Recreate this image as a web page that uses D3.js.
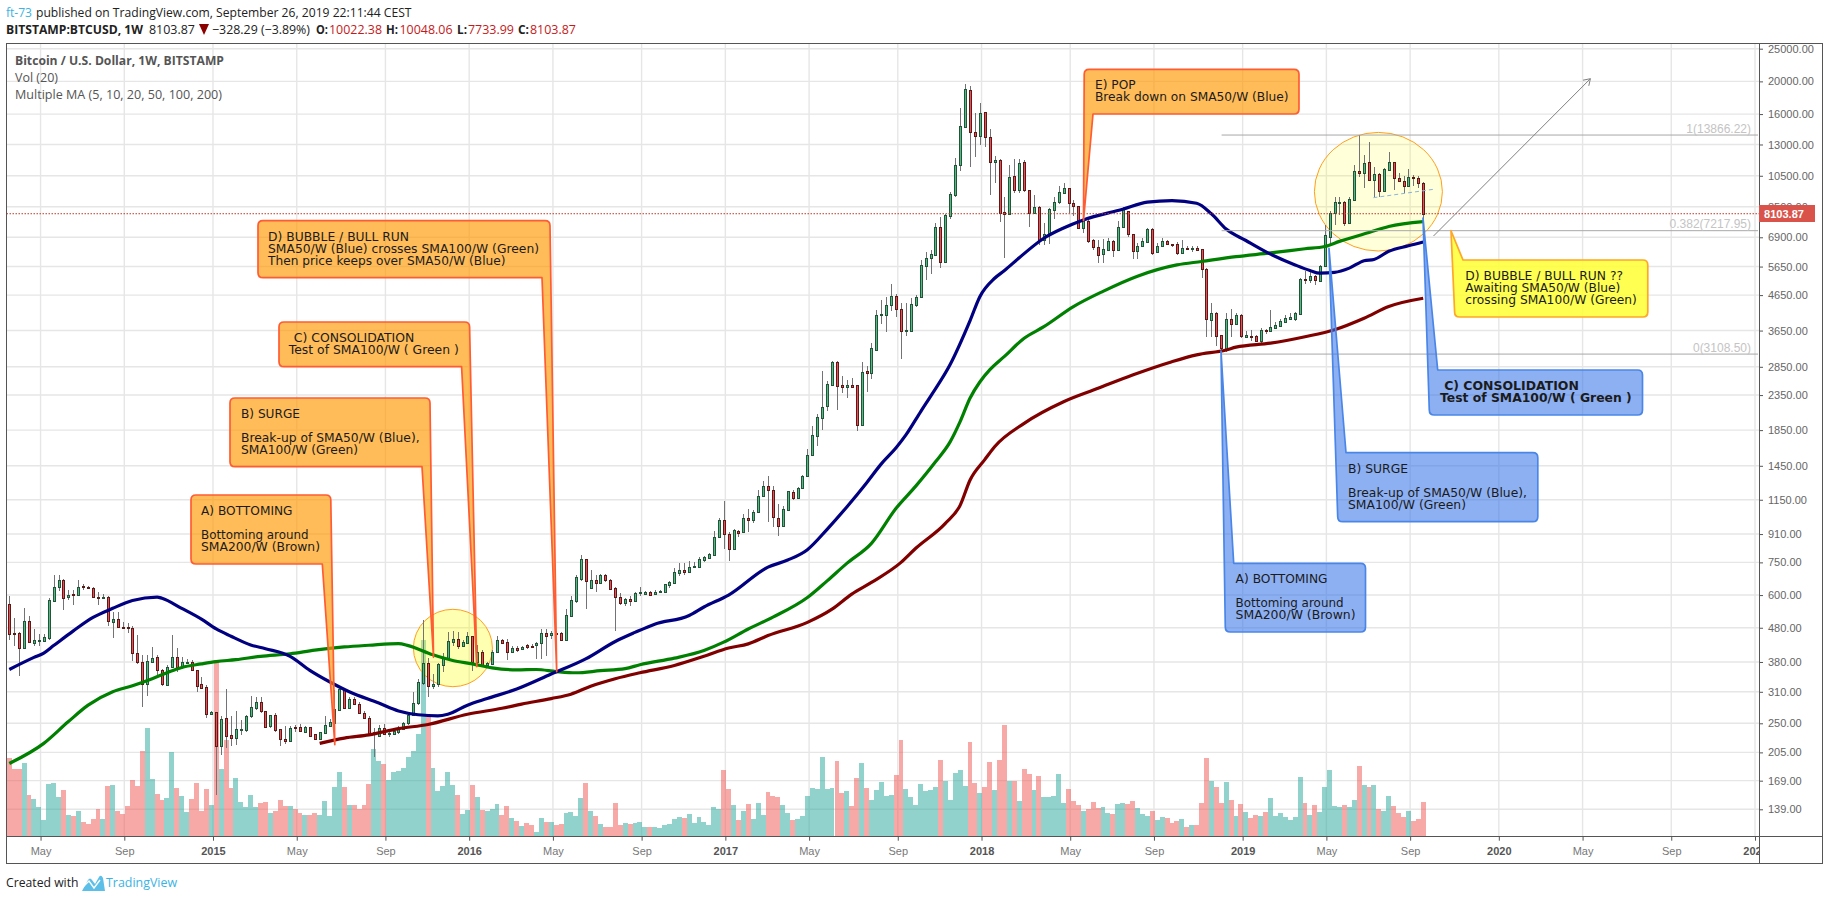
<!DOCTYPE html>
<html><head><meta charset="utf-8">
<script src="https://cdn.jsdelivr.net/npm/d3@7"></script>
<style>
html,body{margin:0;padding:0;background:#fff;overflow:hidden}
svg{display:block;font-family:"Liberation Sans",Arial,sans-serif}
.note{font-family:"DejaVu Sans",sans-serif;font-size:12px;fill:#1b1b1b}
.head{font-family:"Open Sans",sans-serif;font-size:12.5px;fill:#222}
</style></head><body>
<svg id="c" width="1828" height="900"></svg>
<script>
// weekly candles [open, high, low, close]
const ohlc2014=[[563,597,443,461],[463,512,423,461],[463,467,345,419],[419,551,418,504],[504,519,433,435],[433,476,425,440],[438,460,425,443],[439,460,435,451],[449,590,440,580],[577,687,573,636],[636,687,618,664],[663,669,542,590],[593,621,581,602],[604,621,560,601],[602,664,601,636],[637,646,622,636],[636,639,625,630],[630,632,592,593],[594,611,560,593],[590,604,584,594],[594,597,486,501],[500,533,449,511],[511,533,479,482],[482,500,476,479],[482,495,463,479],[479,485,382,403],[403,457,375,380],[380,399,279,326],[327,399,301,382],[381,421,381,390],[392,399,347,359],[359,363,323,326],[325,371,324,368],[368,457,368,392],[392,418,355,368],[368,392,363,380],[379,388,375,381],[380,384,357,359],[360,360,310,322],[326,343,316,319],[320,324,259,267]];
const ohlc2015=[[267,272,266,270],[270,270,153,214],[214,262,202,258],[259,315,211,229],[231,262,214,226],[226,272,216,240],[239,256,231,240],[239,265,236,263],[262,302,259,279],[277,300,274,290],[290,300,269,271],[272,272,242,244],[245,265,242,264],[264,268,236,239],[240,240,214,225],[225,246,217,221],[222,245,221,242],[243,247,236,242],[243,248,236,238],[236,245,235,243],[243,244,230,230],[232,232,223,224],[225,236,224,235],[234,262,234,247],[246,258,244,253],[251,313,250,275],[274,317,272,315],[315,319,277,278],[278,300,277,296],[296,300,283,285],[286,290,267,268],[269,272,258,259],[260,262,231,232],[232,242,199,235],[230,247,228,242],[242,249,232,233],[233,239,228,234],[233,242,231,238],[235,245,232,242],[240,253,239,251],[250,266,247,264],[264,309,262,288],[287,339,284,331],[329,506,324,377],[378,390,300,323],[323,351,316,328],[327,378,320,375],[373,404,355,393],[390,465,388,438],[436,470,423,446],[446,465,414,425],[425,440,421,435]];
const ohlc2016=[[433,467,430,453],[453,455,357,381],[380,427,373,406],[406,411,369,371],[371,381,367,377],[375,411,374,408],[406,453,406,440],[440,445,430,434],[435,445,386,408],[408,423,404,417],[417,425,406,413],[416,425,414,422],[427,429,416,422],[424,429,418,420],[428,437,388,432],[432,476,388,463],[462,476,397,455],[456,470,445,463],[463,470,388,462],[463,465,439,440],[440,545,439,523],[521,597,518,580],[578,688,568,680],[669,787,661,766],[766,770,545,661],[628,713,627,664],[667,689,614,653],[653,692,650,689],[689,692,654,666],[664,669,622,625],[629,632,469,593],[594,608,561,569],[569,588,558,584],[584,597,558,578],[578,611,574,608],[609,632,597,611],[605,618,603,612],[611,615,598,601],[603,621,600,612],[611,619,608,615],[614,648,611,645],[643,661,630,656],[651,724,646,700],[698,749,684,714],[714,746,687,703],[703,757,700,729],[729,752,728,731],[728,780,726,766],[761,784,754,777],[775,802,770,793],[790,930,786,893],[891,1012,889,1005]];
const ohlc2017=[[1005,1143,820,911],[913,925,757,822],[822,945,820,934],[932,936,893,918],[920,1046,916,1018],[1018,1080,924,1001],[1001,1075,980,1061],[1055,1227,1050,1180],[1180,1305,1175,1267],[1267,1356,985,1233],[1233,1266,956,1023],[1018,1120,900,960],[960,1105,956,1080],[1075,1224,1075,1218],[1212,1233,1145,1163],[1165,1255,1160,1247],[1245,1365,1243,1356],[1350,1626,1347,1560],[1556,1903,1552,1790],[1780,2070,1655,2020],[2015,2775,1855,2170],[2175,2590,2110,2530],[2525,2960,2520,2950],[2950,2975,2125,2505],[2510,2680,2380,2490],[2490,2610,2300,2510],[2510,2640,2460,2485],[2515,2525,1845,1910],[1910,2955,1905,2750],[2765,2865,2400,2740],[2740,3360,2620,3235],[3200,4200,3180,4070],[4060,4500,3820,4075],[4060,4600,3620,4350],[4350,5000,4180,4620],[4620,4690,4010,4220],[4220,4400,3000,3650],[3650,4400,3520,3670],[3650,4570,3640,4370],[4350,4650,4300,4600],[4590,5910,4570,5700],[5690,6220,5160,5980],[5970,6330,5380,6150],[6130,7600,6120,7410],[7400,7910,5590,5840],[5840,8090,5830,8040],[8000,9430,7810,9280],[9230,11830,9070,11290],[11270,16650,10880,14760],[14690,19650,14660,18970],[18900,19390,11180,14110],[14170,16090,11920,13820]];
const ohlc2018=[[13820,17220,12930,16150],[16190,16270,12820,13660],[13660,14420,9220,11570],[11570,12000,9980,11700],[11680,11760,7680,8130],[8190,9070,5980,8070],[8070,11290,8030,10400],[10500,11750,9320,9540],[9540,11750,9360,11440],[11540,11700,9430,9500],[9520,9540,7380,8150],[8150,9210,8130,8490],[8490,8550,6540,6790],[6780,7600,6530,7040],[7010,8440,6610,8380],[8340,9110,7820,8790],[8750,9800,8670,9400],[9360,9980,9320,9650],[9650,9670,8170,8690],[8710,8870,7990,8530],[8550,8570,7290,7340],[7340,7800,7090,7730],[7730,7770,6630,6750],[6770,6840,6330,6450],[6450,6780,5800,6130],[6150,6810,5800,6370],[6340,6850,6300,6730],[6730,6780,6050,6340],[6340,7700,6330,7410],[7380,8510,7340,8450],[8240,8280,6930,7050],[7060,7080,5940,6300],[6300,6630,5940,6490],[6480,6850,6440,6720],[6700,7340,6670,7310],[7310,7340,6110,6200],[6220,6630,6190,6490],[6480,6850,6440,6720],[6720,6780,6550,6580],[6600,6610,6440,6550],[6610,6660,6100,6180],[6190,6780,6160,6400],[6420,6500,6330,6400],[6400,6510,6250,6430],[6430,6510,6300,6340],[6350,6370,5230,5550],[5550,5580,3500,3940],[3930,4400,3500,4110],[4110,4130,3280,3520],[3530,3540,3160,3230],[3200,4110,3160,3940],[3940,4220,3500,3830],[3830,4110,3790,4060]];
const ohlc2019=[[4060,4090,3480,3510],[3500,3630,3480,3530],[3520,3670,3390,3510],[3520,3540,3390,3410],[3410,3710,3350,3660],[3660,3680,3570,3630],[3630,4200,3620,3740],[3710,3880,3680,3800],[3770,3960,3750,3900],[3880,4060,3850,3980],[3960,4110,3920,4000],[3940,4150,3900,4110],[4080,5210,4060,5180],[5190,5500,5020,5170],[5140,5460,5040,5300],[5290,5340,4980,5140],[5130,5710,5100,5690],[5660,7510,5650,7010],[6930,8260,6510,8160],[8130,9110,7510,8790],[8750,9110,8030,8790],[8770,8810,7460,7630],[7600,9070,7570,8950],[8910,11320,8870,10820],[10820,13880,10400,10730],[10730,12120,9650,11440],[11520,13210,10140,10170],[10170,11120,9110,10640],[10640,10690,9070,9480],[9480,11040,9430,10980],[10930,12340,10880,11540],[11520,11570,9540,10330],[10330,10690,10030,10100],[10120,10450,9320,9760],[9760,10980,9710,10400],[10400,10570,9760,10330],[10330,10450,9650,10022.38],[10022.38,10048.06,7733.99,8103.87]];
// weekly volume (relative units)
const volumes=[235,202,204,220,124,112,88,49,157,160,118,139,64,61,76,43,37,52,82,52,151,154,76,67,91,169,151,256,325,172,127,109,115,253,145,121,73,112,160,76,142,94,531,202,289,145,175,103,88,124,88,100,103,70,76,109,91,91,82,70,64,64,70,64,106,61,148,193,148,94,94,82,94,157,262,226,217,169,193,196,205,238,256,307,591,366,205,136,151,193,154,124,67,79,154,118,79,76,82,97,64,91,55,46,31,40,34,13,55,43,43,34,37,70,73,61,115,160,76,61,37,28,28,100,34,40,37,40,43,28,28,28,25,34,37,52,58,55,67,40,58,43,34,88,82,199,142,94,49,76,97,52,100,64,133,121,118,94,70,49,52,61,121,145,142,238,142,145,226,130,136,91,175,220,145,109,139,163,121,124,184,289,142,118,94,157,136,139,148,229,166,109,190,199,151,283,160,130,148,223,139,229,334,166,166,106,202,187,139,181,118,118,121,187,100,142,106,94,76,82,103,85,88,70,67,97,100,97,106,85,67,61,76,49,58,55,40,46,52,28,34,34,100,235,166,148,100,163,109,61,97,73,55,64,61,73,115,61,70,58,49,58,178,100,64,94,73,148,199,91,88,94,88,109,211,154,148,154,82,76,121,91,70,58,76,46,52,103];
// moving averages: week number since the first candle, and level
const sma50Weeks=[0,5,7,9,13,17,21,25,30,31,35,39,42,45,49,52,57,61,65,69,75,79,83,87,89,93,97,103,110,117,123,127,131,138,141,146,154,158,162,166,170,174,177,180,182,185,187,191,195,197,200,202,205,210,214,218,226,231,236,241,244,247,251,255,261,264,266,269,272,275,277,280,284,287];
const sma50Values=[361,392,404,425,470,515,548,578,592,587,548,509,476,453,427,416,395,359,332,310,287,272,265,263,266,283,296,316,350,388,437,465,492,522,553,600,726,762,818,940,1095,1290,1469,1640,1790,2100,2330,2900,3900,4600,5216,5500,6000,6855,7350,7765,8356,8767,8860,8704,8100,7300,6750,6256,5713,5500,5400,5430,5590,5880,5930,6270,6510,6680];
const sma100Weeks=[0,7,12,16,21,25,29,32,35,39,42,46,51,57,62,68,73,79,81,86,90,94,98,103,107,111,115,120,125,128,135,141,145,150,155,162,166,170,175,180,184,188,191,193,195,197,199,202,206,210,216,222,229,237,242,249,256,263,267,270,276,280,287];
const sma100Values=[190,218,253,283,310,323,339,353,366,375,381,386,395,402,412,421,426,431,425,399,384,375,365,360,361,356,353,358,363,373,390,411,435,476,516,590,661,745,854,1085,1262,1490,1710,1960,2300,2570,2790,3060,3463,3748,4298,4770,5290,5713,5850,6046,6200,6380,6480,6710,7130,7430,7680];
const sma200Weeks=[63,68,73,79,85,93,100,104,110,114,118,123,128,135,141,146,150,154,162,167,171,175,181,184,190,193,195,198,200,206,214,221,228,236,241,247,249,256,263,269,275,280,287];
const sma200Values=[218,226,231,241,248,266,277,285,296,305,322,339,353,371,395,418,430,455,498,545,604,654,750,826,979,1107,1314,1512,1652,1938,2246,2461,2695,2952,3092,3197,3260,3350,3500,3670,3970,4300,4550];
const priceTicks=[25000,20000,16000,13000,10500,8500,6900,5650,4650,3650,2850,2350,1850,1450,1150,910,750,600,480,380,310,250,205,169,139];
const timeTickDates=["2014-05-05","2014-09-01","2015-01-05","2015-05-04","2015-09-07","2016-01-04","2016-05-02","2016-09-05","2017-01-02","2017-05-01","2017-09-04","2018-01-01","2018-05-07","2018-09-03","2019-01-07","2019-05-06","2019-09-02","2020-01-06","2020-05-04","2020-09-07","2021-01-04"];
const timeTickLabels=["May","Sep","2015","May","Sep","2016","May","Sep","2017","May","Sep","2018","May","Sep","2019","May","Sep","2020","May","Sep","2021"];
const fibLevels=[["1(13866.22)",13866.22],["0.382(7217.95)",7217.95],["0(3108.50)",3108.50]];
const lastClose=8103.87;
const firstWeek="2014-03-24";

const notes=[
 {k:"br",c:"o",r:[258,220.7,550,277.7],b:542,t:[556.7,671.7],l:[["D) BUBBLE / BULL RUN",268,236.7,141],["SMA50/W (Blue) crosses SMA100/W (Green)",268,248.7,271],["Then price keeps over SMA50/W (Blue)",268,260.7,237.5]]},
 {k:"br",c:"o",r:[279,322,469.6,366.7],b:461.6,t:[476.8,666.7],l:[["C) CONSOLIDATION",293.8,337.7,120.5],["Test of SMA100/W ( Green )",288.8,349.7,170]]},
 {k:"br",c:"o",r:[230,398,430,466.7],b:422,t:[433.5,657.3],l:[["B) SURGE",241,413.7,59],["Break-up of SMA50/W (Blue),",241,437.7,178.6],["SMA100/W (Green)",241,449.7,117]]},
 {k:"br",c:"o",r:[191,495,330.8,564],b:322.3,t:[334.8,744.7],l:[["A) BOTTOMING",201,510.7,91.5],["Bottoming around",201,534.7,107.6],["SMA200/W (Brown)",201,546.7,119]]},
 {k:"bl",c:"o",r:[1084.2,69.3,1299,114],b:1093,t:[1083.5,220.7],l:[["E) POP",1095,84.7,40.6],["Break down on SMA50/W (Blue)",1095,96.7,193.6]]},
 {k:"tl",c:"y",r:[1454.6,260,1647.8,317],b:1463,t:[1451,230.7],l:[["D) BUBBLE / BULL RUN ??",1465.3,275.7,157.7],["Awaiting SMA50/W (Blue)",1465.3,287.7,155],["crossing SMA100/W (Green)",1465.3,299.7,171.5]]},
 {k:"tl",c:"b",r:[1429.3,370,1642.5,415],b:1437.7,t:[1423,218],bold:true,l:[["C) CONSOLIDATION",1444.2,385.7,134.7],["Test of SMA100/W ( Green )",1440,397.7,191.7]]},
 {k:"tl",c:"b",r:[1337.7,452.7,1537.8,521.7],b:1346,t:[1329,248.3],l:[["B) SURGE",1348,468.7,60],["Break-up of SMA50/W (Blue),",1348,492.7,179],["SMA100/W (Green)",1348,504.7,118]]},
 {k:"tl",c:"b",r:[1225.3,563.3,1365.5,632],b:1233.7,t:[1221,351],l:[["A) BOTTOMING",1235.6,578.7,92],["Bottoming around",1235.6,602.7,108],["SMA200/W (Brown)",1235.6,614.7,120]]}
];
const noteStyle={o:{f:"#ff9800",op:.65,s:"#ff5c33"},b:{f:"#2f6fe8",op:.55,s:"#4a86e8"},y:{f:"#ffff33",op:.85,s:"#ffa726"}};

const candles=[...ohlc2014,...ohlc2015,...ohlc2016,...ohlc2017,...ohlc2018,...ohlc2019];
const parse=d3.utcParse("%Y-%m-%d");
const start=parse(firstWeek);
const dateOf=i=>d3.utcWeek.offset(start,i);
const L=6.5,R=1759,T=43,B=836.7,FR=1822,FB=863;
const x=d3.scaleUtc().domain([start,parse("2021-01-04")]).range([11,1755]);
const y=d3.scaleLog().domain([25000,139]).range([48.7,809.3]);
const vol=d3.scaleLinear().domain([0,600]).range([B,B-200]);
const barShift=1.7;
const cx=i=>x(dateOf(i))-barShift;
const svg=d3.select("#c");
const defs=svg.append("defs");
defs.append("clipPath").attr("id","plot").append("rect").attr("x",L).attr("y",T).attr("width",R-L).attr("height",B-T);
defs.append("clipPath").attr("id","xa").append("rect").attr("x",L).attr("y",B).attr("width",R-L).attr("height",FB-B);
const tickDates=timeTickDates.map(parse);

// grid
const grid=svg.append("g").attr("clip-path","url(#plot)").attr("stroke","#e6e6e6").attr("stroke-width",1.4);
grid.selectAll(".h").data(priceTicks).join("line").attr("class","h").attr("x1",L).attr("x2",R).attr("y1",d=>y(d)).attr("y2",d=>y(d));
grid.selectAll(".v").data(tickDates).join("line").attr("class","v").attr("x1",d=>x(d)).attr("x2",d=>x(d)).attr("y1",T).attr("y2",B);

const plot=svg.append("g").attr("clip-path","url(#plot)");
// volume
plot.append("g").attr("shape-rendering","crispEdges").selectAll("rect").data(volumes).join("rect")
 .attr("x",(d,i)=>Math.round(cx(i)-2.46)).attr("width",(d,i)=>Math.round(cx(i)+2.46)-Math.round(cx(i)-2.46))
 .attr("y",d=>vol(d)).attr("height",d=>B-vol(d))
 .attr("fill",(d,i)=>candles[i][3]>=candles[i][0]?"#26a69a":"#ef5350").attr("opacity",.5);

// highlights beneath candles
const ell=[[452.9,648,39.5,38.7,.3],[1378.4,191.7,64,59.3,.15]];
plot.append("g").selectAll("ellipse").data(ell).join("ellipse").attr("cx",d=>d[0]).attr("cy",d=>d[1]).attr("rx",d=>d[2]).attr("ry",d=>d[3])
 .attr("fill",d=>`rgba(255,255,0,${d[4]})`).attr("stroke","#ff9f1a").attr("stroke-width",1);

const sma=(w,v,c)=>plot.append("path").datum(w.map((k,i)=>[cx(k),y(v[i])])).attr("fill","none").attr("stroke",c).attr("stroke-width",3.2).attr("stroke-linejoin","round")
 .attr("d",d3.line().curve(d3.curveMonotoneX));

// candles
const cg=plot.append("g").attr("shape-rendering","crispEdges");
candles.forEach((c,i)=>{
 const px=Math.round(cx(i));const up=c[3]>=c[0];
 cg.append("line").attr("x1",px+.5).attr("x2",px+.5).attr("y1",y(c[1])).attr("y2",y(c[2])).attr("stroke","#737375");
 const t=Math.round(y(Math.max(c[0],c[3]))),b=Math.round(y(Math.min(c[0],c[3])));
 cg.append("rect").attr("x",px-.5).attr("y",t+.5).attr("width",2).attr("height",Math.max(b-t,1))
  .attr("fill",up?"#53b987":"#eb4d5c").attr("stroke",up?"#225437":"#5b1a13");
});
sma(sma200Weeks,sma200Values,"#800000");
sma(sma100Weeks,sma100Values,"#008000");
sma(sma50Weeks,sma50Values,"#000080");

// last price line
plot.append("line").attr("x1",L).attr("x2",R).attr("y1",y(lastClose)).attr("y2",y(lastClose)).attr("stroke","#c0392b").attr("stroke-dasharray","1.5 1.5");
// fibonacci
const fg=svg.append("g");
fg.selectAll("line").data(fibLevels).join("line").attr("x1",1221.6).attr("x2",1758).attr("y1",d=>y(d[1])).attr("y2",d=>y(d[1])).attr("stroke","#a8a8a8");
fg.selectAll("text").data(fibLevels).join("text").attr("x",1751).attr("y",d=>y(d[1])-6.5).attr("dy",".35em").attr("text-anchor","end").attr("fill","#c4c4c4").attr("font-size",12).text(d=>d[0]);
// dashed trend + arrow
svg.append("line").attr("x1",1373.4).attr("y1",197.7).attr("x2",1433.5).attr("y2",189.3).attr("stroke","#8ab4e0").attr("stroke-dasharray","4 3");
const ar=svg.append("g").attr("stroke","#808080").attr("fill","none");
ar.append("line").attr("x1",1433.5).attr("y1",236).attr("x2",1590.4).attr("y2",78.7);
ar.append("path").attr("d","M1583,80.2L1590.4,78.7L1588.8,85.8");

// callouts
function notePath(n){const [a,b,c,d]=n.r,r=5,[tx,ty]=n.t;
 if(n.k==="br")return `M${a+r},${b}L${c-r},${b}Q${c},${b} ${c},${b+r}L${tx},${ty}L${n.b},${d}L${a+r},${d}Q${a},${d} ${a},${d-r}L${a},${b+r}Q${a},${b} ${a+r},${b}Z`;
 if(n.k==="bl")return `M${a+r},${b}L${c-r},${b}Q${c},${b} ${c},${b+r}L${c},${d-r}Q${c},${d} ${c-r},${d}L${n.b},${d}L${tx},${ty}L${a},${b+r}Q${a},${b} ${a+r},${b}Z`;
 return `M${n.b},${b}L${c-r},${b}Q${c},${b} ${c},${b+r}L${c},${d-r}Q${c},${d} ${c-r},${d}L${a+r},${d}Q${a},${d} ${a},${d-r}L${tx},${ty}Z`;}
const ng=svg.append("g").selectAll("g").data(notes).join("g");
ng.append("path").attr("d",notePath).attr("fill",d=>noteStyle[d.c].f).attr("fill-opacity",d=>noteStyle[d.c].op).attr("stroke",d=>noteStyle[d.c].s).attr("stroke-width",1.7).attr("stroke-linejoin","round");
ng.each(function(n){d3.select(this).selectAll("text").data(n.l).join("text").attr("class","note").attr("x",d=>d[1]).attr("y",d=>d[2]).attr("dy",".36em").attr("textLength",d=>d[3]).attr("lengthAdjust","spacingAndGlyphs").attr("font-weight",n.bold?"bold":null).text(d=>d[0]);});

// frame
const frame=svg.append("g").attr("stroke","#555").attr("fill","none").attr("shape-rendering","crispEdges");
frame.append("rect").attr("x",L).attr("y",T+.5).attr("width",FR-L).attr("height",FB-T);
frame.append("line").attr("x1",R).attr("x2",R).attr("y1",T).attr("y2",FB);
frame.append("line").attr("x1",L).attr("x2",FR).attr("y1",B).attr("y2",B);

// axes
const ya=svg.append("g").attr("transform",`translate(${R},0)`).call(d3.axisRight(y).tickValues(priceTicks).tickFormat(d3.format(".2f")).tickSize(4).tickPadding(5));
ya.select(".domain").remove();
ya.selectAll("line").attr("stroke","#555");
ya.selectAll("text").attr("fill","#666").attr("font-size",11).attr("font-family","Liberation Sans");
const xa=svg.append("g").attr("clip-path","url(#xa)").append("g").attr("transform",`translate(0,${B})`).call(d3.axisBottom(x).tickValues(tickDates).tickFormat((d,i)=>timeTickLabels[i]).tickSize(4).tickPadding(7));
xa.select(".domain").remove();
xa.selectAll("line").attr("stroke","#555");
xa.selectAll("text").attr("fill",(d,i)=>/\d/.test(timeTickLabels[i])?"#555":"#777").attr("font-weight",(d,i)=>/\d/.test(timeTickLabels[i])?"bold":null).attr("font-size",11).attr("font-family","Liberation Sans");

// last price label
svg.append("rect").attr("x",R).attr("y",205).attr("width",56).attr("height",17).attr("fill","#d9534a");
svg.append("text").attr("x",R+25).attr("y",y(lastClose)).attr("dy",".36em").attr("text-anchor","middle").attr("fill","#fff").attr("font-weight","bold").attr("font-size",11).text(lastClose.toFixed(2));

// legend
const lg=[["Bitcoin / U.S. Dollar, 1W, BITSTAMP",60.7,"bold",209],["Vol (20)",77.7,null,43],["Multiple MA (5, 10, 20, 50, 100, 200)",94.7,null,207]];
svg.append("g").selectAll("text").data(lg).join("text").attr("class","head").attr("x",15).attr("y",d=>d[1]).attr("dy",".36em").attr("font-weight",d=>d[2]).attr("textLength",d=>d[3]).attr("lengthAdjust","spacingAndGlyphs").style("fill","#555").text(d=>d[0]);

// header
const red="#c41a1a";
const hd=[["ft-73",6,12.3,null,"#3bb3e4",26],["published on TradingView.com, September 26, 2019 22:11:44 CEST",36,12.3,null,"#222",375.5],
["BITSTAMP:BTCUSD, 1W",6,29,"bold","#222",137],["8103.87",149,29,null,"#222",46],["−328.29 (−3.89%)",212,29,null,"#222",98],
["O:",316,29,"bold","#222",12],["10022.38",329,29,null,red,53],["H:",386,29,"bold","#222",12],["10048.06",399.5,29,null,red,53],
["L:",457,29,"bold","#222",10],["7733.99",468,29,null,red,46],["C:",518,29,"bold","#222",11],["8103.87",530,29,null,red,46]];
svg.append("g").selectAll("text").data(hd).join("text").attr("class","head").attr("x",d=>d[1]).attr("y",d=>d[2]).attr("dy",".36em").attr("font-weight",d=>d[3]).attr("textLength",d=>d[5]).attr("lengthAdjust","spacingAndGlyphs").style("fill",d=>d[4]).text(d=>d[0]);
svg.append("path").attr("d","M199,24L209,24L204,35Z").attr("fill","#8b0000");

// footer
svg.append("text").attr("class","head").attr("x",6).attr("y",882.7).attr("dy",".36em").attr("textLength",72.5).attr("lengthAdjust","spacingAndGlyphs").text("Created with");
svg.append("path").attr("d","M82,891L88,880Q90,877 92,880L95,884L99,877Q101,874 103,878L105,891Z").attr("fill","#5bbfe8");
svg.append("path").attr("d","M83,887L89,881L94,888L100,880").attr("fill","none").attr("stroke","#fff").attr("stroke-width",1.4);
svg.append("text").attr("class","head").attr("x",106).attr("y",882.7).attr("dy",".36em").attr("textLength",71).attr("lengthAdjust","spacingAndGlyphs").style("fill","#3bb3e4").text("TradingView");
</script></body></html>
